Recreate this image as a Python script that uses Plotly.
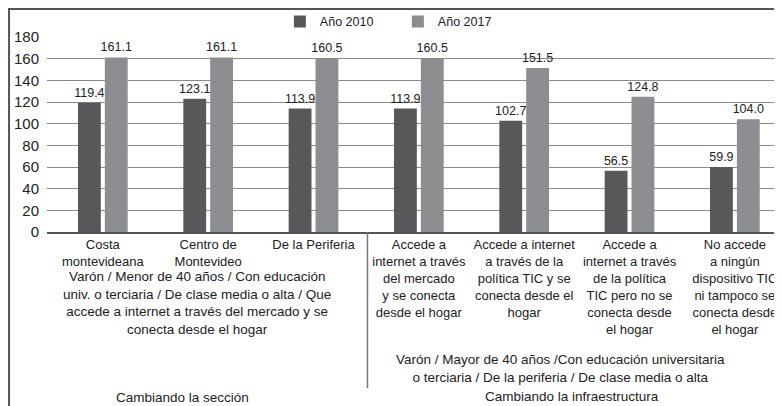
import plotly.graph_objects as go

categorias = [
    "Costa<br>montevideana",
    "Centro de<br>Montevideo",
    "De la Periferia",
    "Accede a<br>internet a través<br>del mercado<br>y se conecta<br>desde el hogar",
    "Accede a internet<br>a través de la<br>política TIC y se<br>conecta desde el<br>hogar",
    "Accede a<br>internet a través<br>de la política<br>TIC pero no se<br>conecta desde<br>el hogar",
    "No accede<br>a ningún<br>dispositivo TIC<br>ni tampoco se<br>conecta desde<br>el hogar",
]
anio_2010 = [119.4, 123.1, 113.9, 113.9, 102.7, 56.5, 59.9]
anio_2017 = [161.1, 161.1, 160.5, 160.5, 151.5, 124.8, 104.0]
y_ticks = [0, 20, 40, 60, 80, 100, 120, 140, 160, 180]

FONT = "Liberation Sans, Arial, sans-serif"
TXT = "#222222"

fig = go.Figure()
fig.add_trace(go.Bar(
    x=categorias, y=anio_2010, name="Año 2010",
    marker=dict(color="#58585a", line=dict(width=0)),
    text=[f"{v:.1f}" for v in anio_2010], textposition="outside", constraintext="none",
    textfont=dict(family=FONT, size=12.5, color=TXT), cliponaxis=False,
))
fig.add_trace(go.Bar(
    x=categorias, y=anio_2017, name="Año 2017",
    marker=dict(color="#8c8d90", line=dict(width=0)),
    text=[f"{v:.1f}" for v in anio_2017], textposition="outside", constraintext="none",
    textfont=dict(family=FONT, size=12.5, color=TXT), cliponaxis=False,
))

# separator between the two blocks and the outer frame
fig.add_shape(type="line", xref="paper", yref="paper", x0=0.439, x1=0.439, y0=0, y1=-0.8,
              line=dict(color="#777777", width=1.5))
fig.add_shape(type="rect", xref="paper", yref="paper", x0=-0.052, x1=1.2, y0=-1.2, y1=1.1436,
              line=dict(color="#555555", width=2), layer="below")

notas = [
    ("Varón / Menor de 40 años / Con educación<br>univ. o terciaria / De clase media o alta / Que<br>"
     "accede a internet a través del mercado y se<br>conecta desde el hogar", 0.205, -0.179),
    ("Varón / Mayor de 40 años /Con educación universitaria<br>o terciaria / De la periferia / De clase media o alta",
     0.704, -0.605),
    ("Cambiando la sección", 0.186, -0.80),
    ("Cambiando la infraestructura", 0.719, -0.795),
]
for texto, x, y in notas:
    fig.add_annotation(text=texto, xref="paper", yref="paper", x=x, y=y,
                       xanchor="center", yanchor="top", showarrow=False, align="center",
                       font=dict(family=FONT, size=13.5, color=TXT))

fig.update_layout(
    width=774, height=398,
    margin=dict(l=39, r=5, t=29, b=174, autoexpand=False),
    paper_bgcolor="white", plot_bgcolor="white",
    barmode="group", bargap=0.49, bargroupgap=0.15,
    font=dict(family=FONT, size=13, color=TXT),
    showlegend=True,
    legend=dict(orientation="h", x=0.319, y=1.077, xanchor="left", yanchor="middle",
                font=dict(family=FONT, size=12.5, color=TXT), entrywidth=73,
                bgcolor="rgba(0,0,0,0)"),
)
fig.update_xaxes(range=[-0.53, 6.40], showline=True, linecolor="#555555", linewidth=1.5,
                 ticks="", showgrid=False, tickfont=dict(family=FONT, size=13, color=TXT),
                 tickangle=0)
fig.update_yaxes(range=[0, 180], tickvals=y_ticks, showgrid=True, gridcolor="#8a8a8a",
                 gridwidth=1, zeroline=False, showline=False, ticklabelstandoff=7,
                 tickfont=dict(family=FONT, size=15, color=TXT))

fig.write_html("out.html")
